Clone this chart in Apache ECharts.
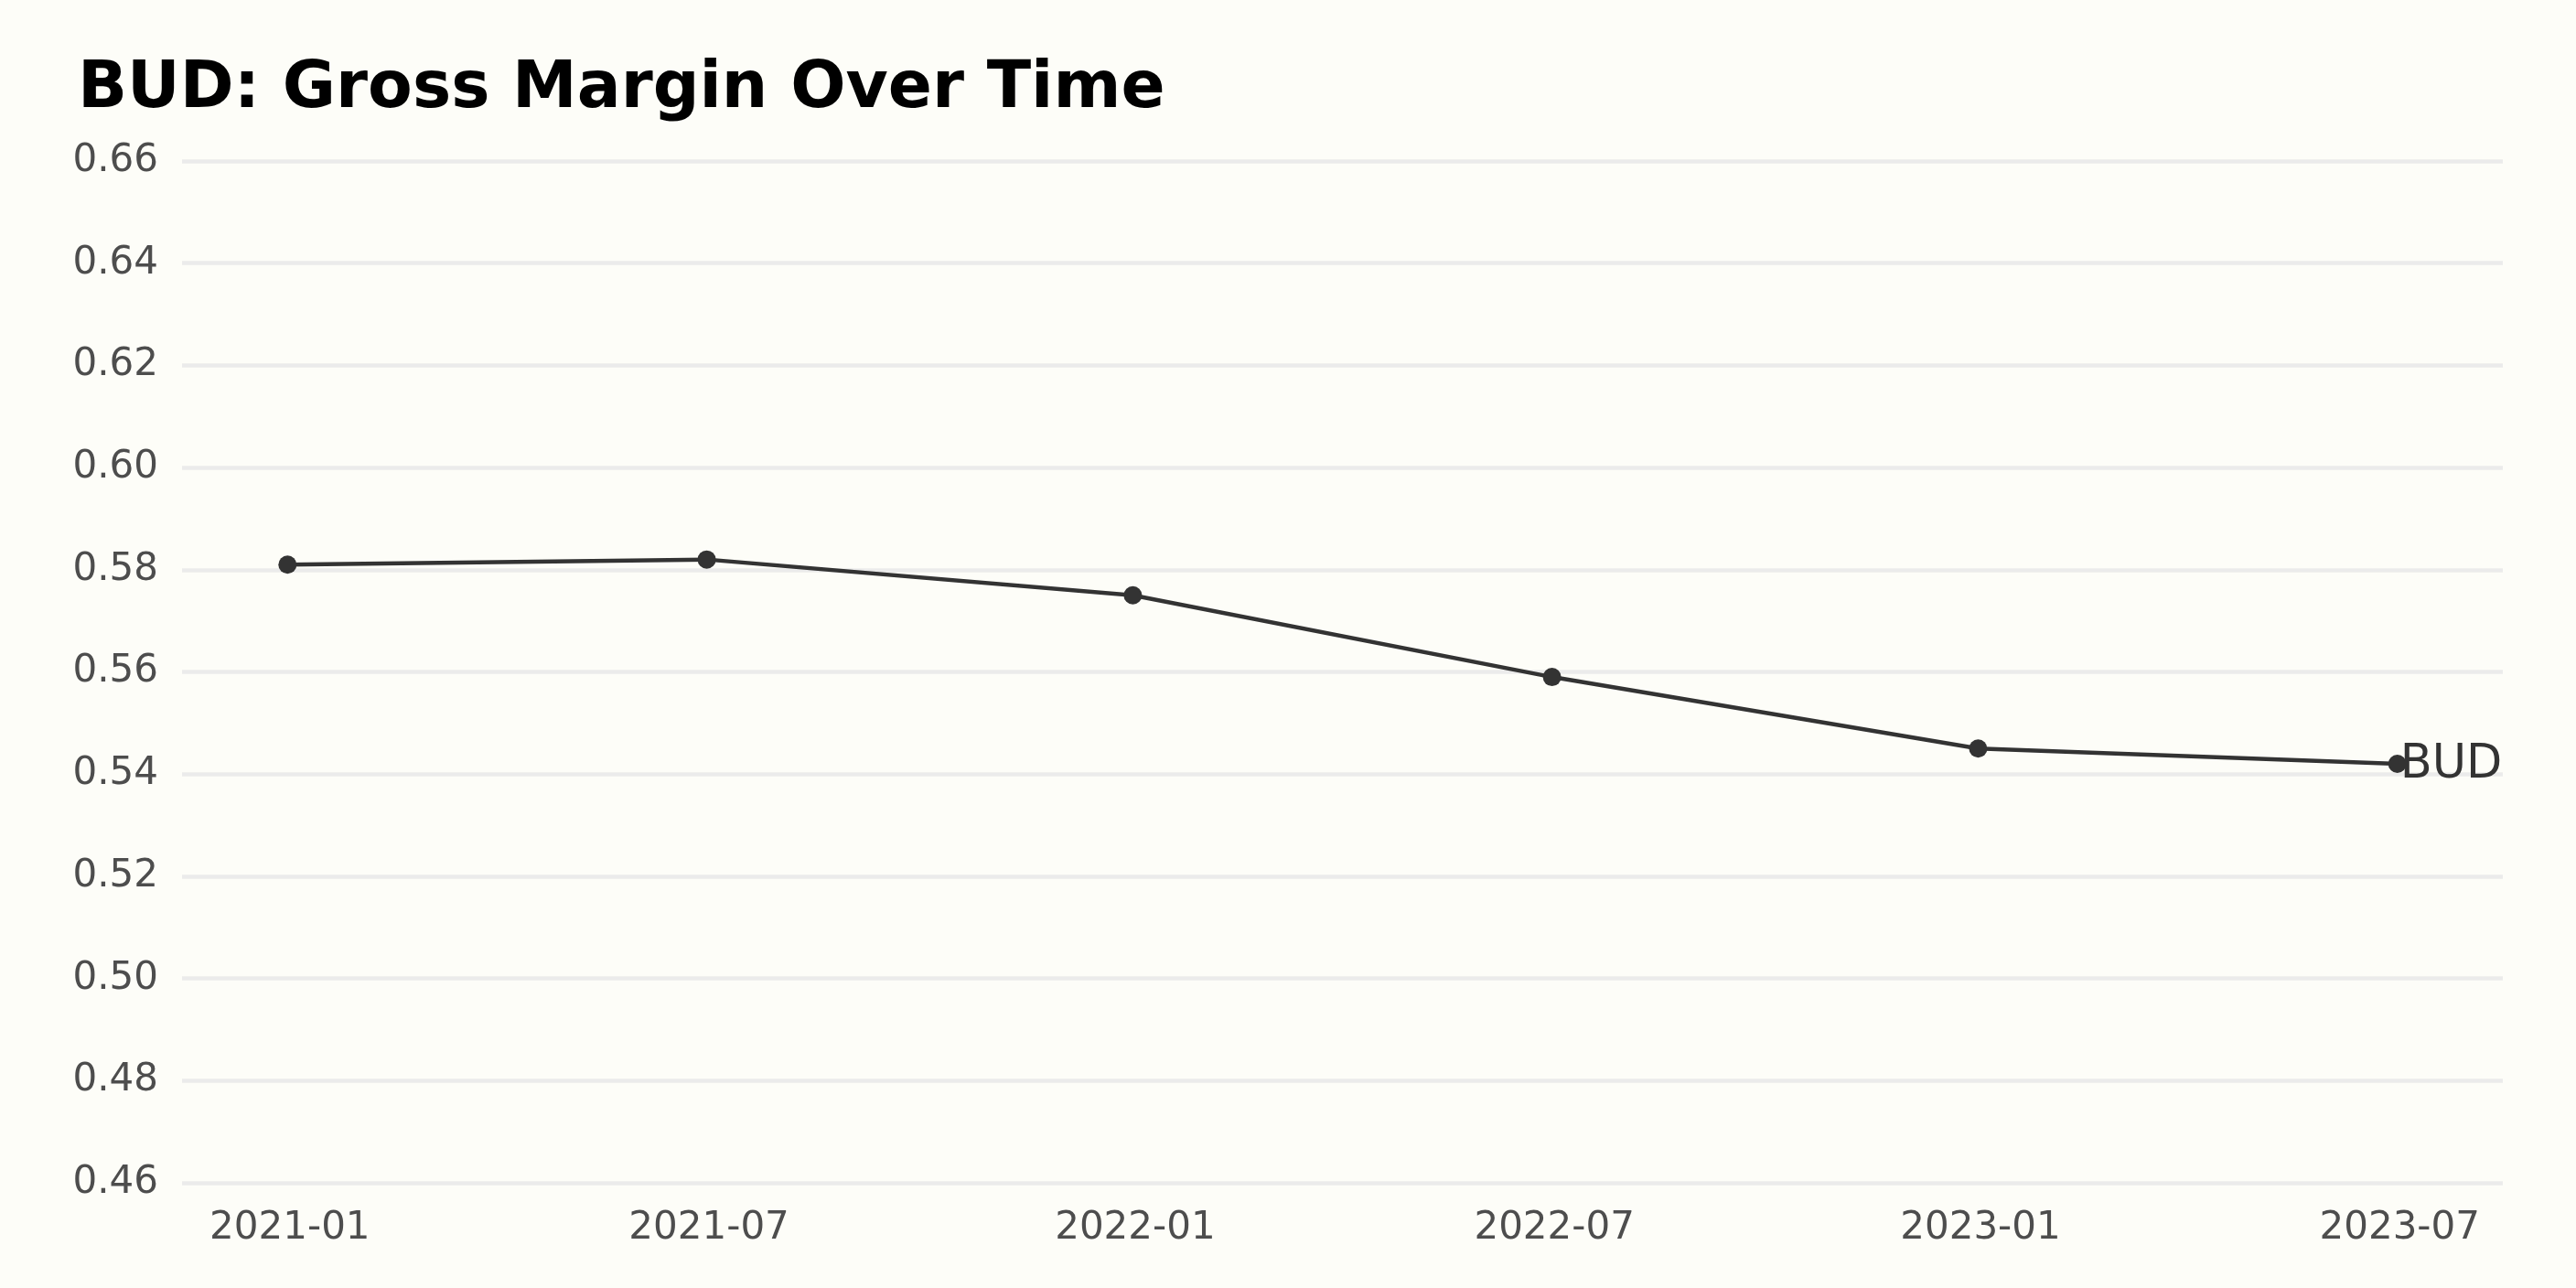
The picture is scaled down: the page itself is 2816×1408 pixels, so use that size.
<!DOCTYPE html>
<html>
<head>
<meta charset="utf-8">
<script src="https://cdn.jsdelivr.net/npm/echarts@6/dist/echarts.min.js"></script>
<style>
  html, body { margin: 0; padding: 0; background: #fdfdf8; }
  #chart { width: 2816px; height: 1408px; }
</style>
</head>
<body>
<div id="chart"></div>
<script>
// Data
const dates = ['2020-12-31', '2021-06-30', '2021-12-31', '2022-06-30', '2022-12-31', '2023-06-30'];
const grossMargin = [0.581, 0.582, 0.575, 0.559, 0.545, 0.542];
const xTicks = ['2021-01-01', '2021-07-01', '2022-01-01', '2022-07-01', '2023-01-01', '2023-07-01'];
const seriesName = 'BUD';
const titleText = 'BUD: Gross Margin Over Time';

const FONT = 'DejaVu Sans';
const chart = echarts.init(document.getElementById('chart'), null, { renderer: 'canvas' });

const toMs = d => new Date(d + 'T00:00:00Z').getTime();
const seriesData = dates.map((d, i) => [toMs(d), grossMargin[i]]);
const tickValues = xTicks.map(toMs);

function fmtMonth(v) {
  const d = new Date(v);
  const m = d.getUTCMonth() + 1;
  return d.getUTCFullYear() + '-' + (m < 10 ? '0' + m : m);
}

chart.setOption({
  backgroundColor: '#fdfdf8',
  animation: false,
  title: {
    text: titleText,
    left: 80,
    top: 58,
    textStyle: { fontFamily: FONT, fontSize: 71, fontWeight: 'bold', color: '#000000' }
  },
  grid: { left: 199, right: 80, top: 176, bottom: 115, containLabel: false },
  xAxis: {
    type: 'value',
    scale: true,
    min: function (v) { return v.min - 0.05 * (v.max - v.min); },
    max: function (v) { return v.max + 0.05 * (v.max - v.min); },
    axisLine: { show: false },
    axisTick: { show: false },
    splitLine: { show: false },
    axisLabel: {
      customValues: tickValues,
      formatter: function (v) { return fmtMonth(v); },
      fontFamily: FONT,
      fontSize: 42,
      color: '#4d4d4d',
      margin: 29,
      showMinLabel: true,
      showMaxLabel: true,
      hideOverlap: false
    }
  },
  yAxis: {
    type: 'value',
    min: 0.46,
    max: 0.66,
    interval: 0.02,
    axisLine: { show: false },
    axisTick: { show: false },
    splitLine: { show: true, lineStyle: { color: '#ebebeb', width: 4.5 } },
    axisLabel: {
      formatter: function (v) { return v.toFixed(2); },
      fontFamily: FONT,
      fontSize: 42,
      color: '#4d4d4d',
      margin: 26
    }
  },
  series: [{
    name: seriesName,
    type: 'line',
    data: seriesData,
    symbol: 'circle',
    symbolSize: 20,
    lineStyle: { color: '#333333', width: 4.5 },
    itemStyle: { color: '#333333' },
    endLabel: {
      show: true,
      formatter: seriesName,
      fontFamily: FONT,
      fontSize: 51,
      color: '#333333',
      distance: 3,
      offset: [0, 2]
    }
  }]
});
</script>
</body>
</html>
